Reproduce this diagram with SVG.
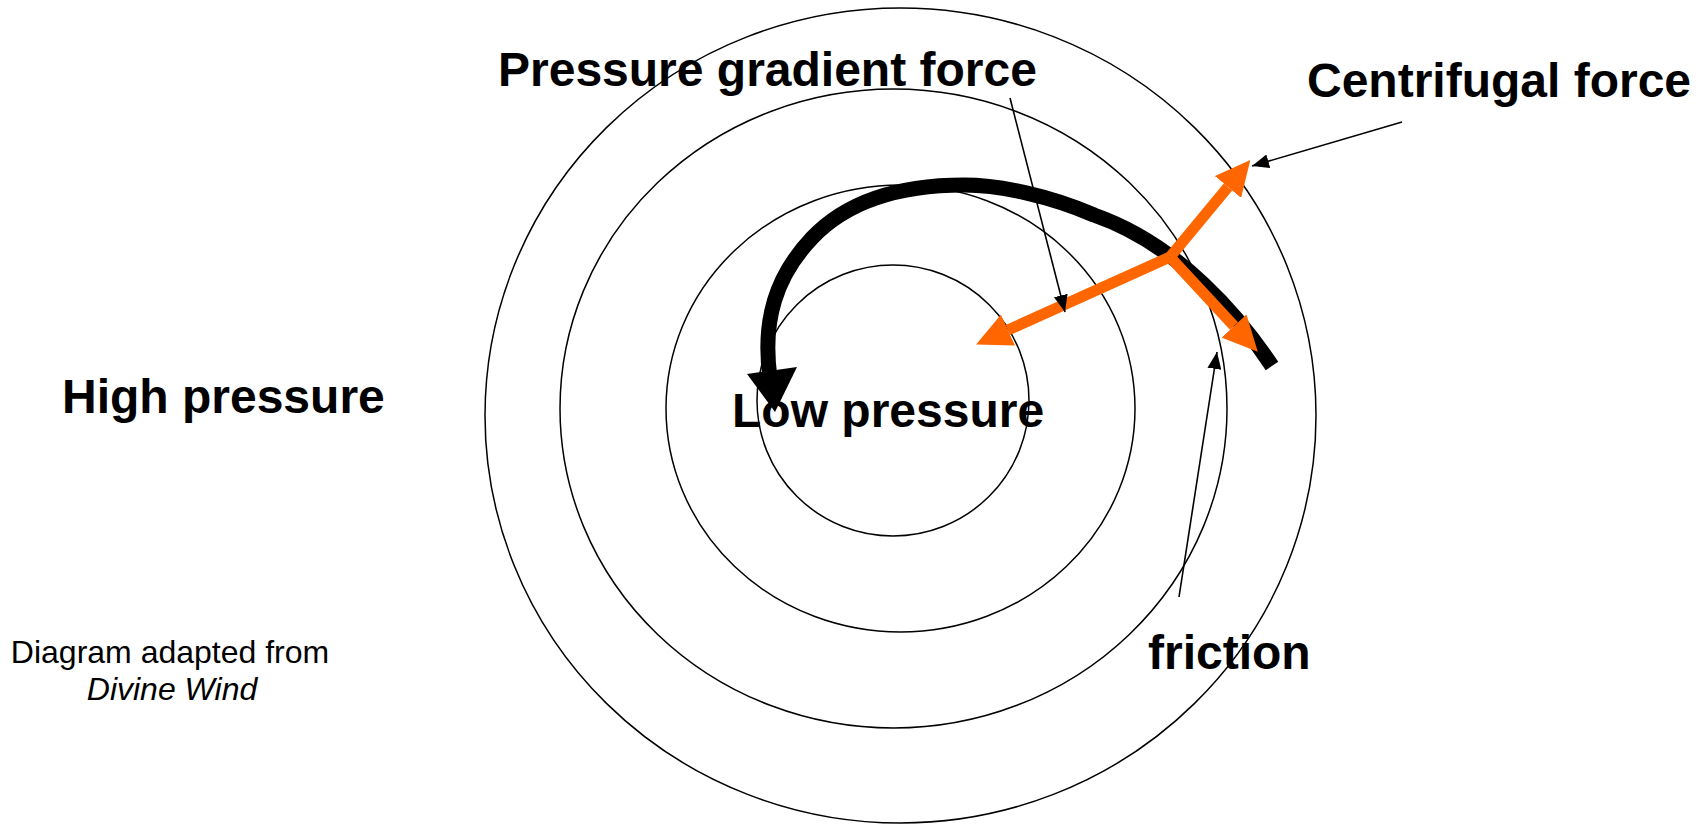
<svg xmlns="http://www.w3.org/2000/svg" width="1707" height="825" viewBox="0 0 1707 825">
<style>
.iso{fill:none;stroke:#000;stroke-width:1.5}
.lbl{font-family:"Liberation Sans",Arial,sans-serif;font-weight:bold;font-size:48px;fill:#000}
.note{font-family:"Liberation Sans",Arial,sans-serif;font-size:32px;fill:#000}
.ptr{fill:none;stroke:#000;stroke-width:1.6}
.force{fill:none;stroke:#FF6600;stroke-width:11;stroke-linecap:butt}
.wind{fill:none;stroke:#000;stroke-width:15;stroke-linecap:butt}
</style>
<defs>
<marker id="thin" viewBox="0 0 17 14" markerWidth="17" markerHeight="14" refX="17" refY="7" orient="auto" markerUnits="userSpaceOnUse">
<path d="M0,0 L17,7 L0,14 z" fill="#000"/>
</marker>
<marker id="orange" viewBox="0 0 35 34" markerWidth="35" markerHeight="34" refX="0" refY="17" orient="auto" markerUnits="userSpaceOnUse">
<path d="M0,0 L35,17 L0,34 z" fill="#FF6600"/>
</marker>
</defs>
<rect width="1707" height="825" fill="#fff"/>
<g id="isobars">
<ellipse class="iso" cx="900.5" cy="415.5" rx="415.5" ry="407.5"/>
<ellipse class="iso" cx="893.5" cy="408.5" rx="333.5" ry="319.5"/>
<ellipse class="iso" cx="900.5" cy="408.5" rx="234.5" ry="223.5"/>
<ellipse class="iso" cx="893" cy="400.5" rx="136" ry="135.5"/>
</g>
<g id="label-pgf"><text class="lbl" x="498" y="86">Pressure gradient force</text></g>
<g id="label-centrifugal"><text class="lbl" x="1307" y="97">Centrifugal force</text></g>
<g id="label-high"><text class="lbl" x="62" y="413">High pressure</text></g>
<g id="label-low"><text class="lbl" x="732" y="427">Low pressure</text></g>
<g id="label-friction"><text class="lbl" x="1148" y="669">friction</text></g>
<g id="credit">
<text class="note" x="170" y="663" text-anchor="middle">Diagram adapted from</text>
<text class="note" x="172" y="700" text-anchor="middle" font-style="italic">Divine Wind</text>
</g>
<g id="connectors">
<path class="wind" d="M1272,366 C1241,319 1180,245 1094,215 C1050,196 1000,185 964,185 C900,185 848,200 812,238 C776,276 762,320 770,378"/>
<polygon points="747,374 797,367 775,412" fill="#000"/>
<line class="force" x1="1170" y1="257" x2="1008" y2="330" marker-end="url(#orange)"/>
<line class="force" x1="1170" y1="257" x2="1228" y2="187" marker-end="url(#orange)"/>
<line class="force" x1="1170" y1="257" x2="1234" y2="326" marker-end="url(#orange)"/>
<line class="ptr" x1="1010" y1="98" x2="1065" y2="312" marker-end="url(#thin)"/>
<line class="ptr" x1="1402" y1="122" x2="1252" y2="166" marker-end="url(#thin)"/>
<line class="ptr" x1="1179" y1="597" x2="1217" y2="352" marker-end="url(#thin)"/>
</g>
</svg>
